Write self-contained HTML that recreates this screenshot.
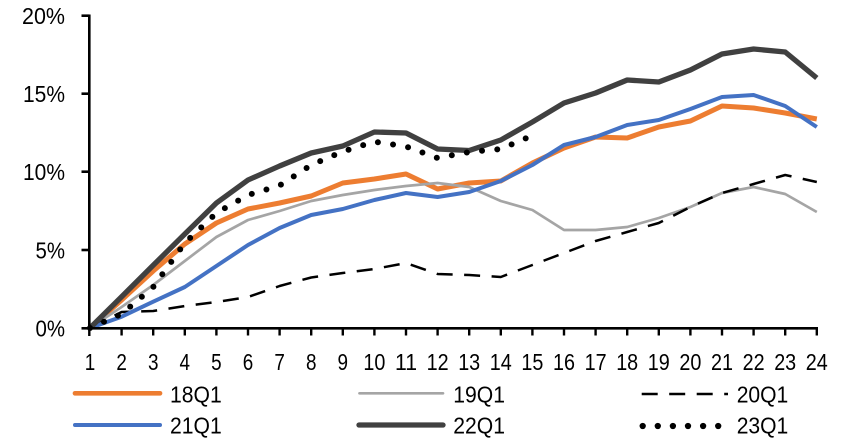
<!DOCTYPE html>
<html><head><meta charset="utf-8"><style>
html,body{margin:0;padding:0;background:#fff;}
svg{display:block;}
text{font-family:"Liberation Sans",Arial,sans-serif;font-size:23px;fill:#000;}
</style></head><body>
<svg width="852" height="442" viewBox="0 0 852 442" xmlns="http://www.w3.org/2000/svg">
<rect width="852" height="442" fill="#fff"/>
<!-- y labels -->
<g text-anchor="end">
<text x="65" y="24" textLength="43" lengthAdjust="spacingAndGlyphs">20%</text>
<text x="65" y="102" textLength="42" lengthAdjust="spacingAndGlyphs">15%</text>
<text x="65" y="180" textLength="42" lengthAdjust="spacingAndGlyphs">10%</text>
<text x="65" y="258.5" textLength="29.5" lengthAdjust="spacingAndGlyphs">5%</text>
<text x="65" y="336.5" textLength="29.5" lengthAdjust="spacingAndGlyphs">0%</text>
</g>
<!-- x labels -->
<g text-anchor="middle">
<text x="90" y="370" textLength="10.5" lengthAdjust="spacingAndGlyphs">1</text>
<text x="121.6" y="370" textLength="10.5" lengthAdjust="spacingAndGlyphs">2</text>
<text x="153.2" y="370" textLength="10.5" lengthAdjust="spacingAndGlyphs">3</text>
<text x="184.8" y="370" textLength="10.5" lengthAdjust="spacingAndGlyphs">4</text>
<text x="216.4" y="370" textLength="10.5" lengthAdjust="spacingAndGlyphs">5</text>
<text x="248" y="370" textLength="10.5" lengthAdjust="spacingAndGlyphs">6</text>
<text x="279.6" y="370" textLength="10.5" lengthAdjust="spacingAndGlyphs">7</text>
<text x="311.2" y="370" textLength="10.5" lengthAdjust="spacingAndGlyphs">8</text>
<text x="342.8" y="370" textLength="10.5" lengthAdjust="spacingAndGlyphs">9</text>
<text x="374.4" y="370" textLength="22" lengthAdjust="spacingAndGlyphs">10</text>
<text x="406" y="370" textLength="22" lengthAdjust="spacingAndGlyphs">11</text>
<text x="437.6" y="370" textLength="22" lengthAdjust="spacingAndGlyphs">12</text>
<text x="469.2" y="370" textLength="22" lengthAdjust="spacingAndGlyphs">13</text>
<text x="500.8" y="370" textLength="22" lengthAdjust="spacingAndGlyphs">14</text>
<text x="532.4" y="370" textLength="22" lengthAdjust="spacingAndGlyphs">15</text>
<text x="564" y="370" textLength="22" lengthAdjust="spacingAndGlyphs">16</text>
<text x="595.6" y="370" textLength="22" lengthAdjust="spacingAndGlyphs">17</text>
<text x="627.2" y="370" textLength="22" lengthAdjust="spacingAndGlyphs">18</text>
<text x="658.8" y="370" textLength="22" lengthAdjust="spacingAndGlyphs">19</text>
<text x="690.4" y="370" textLength="22" lengthAdjust="spacingAndGlyphs">20</text>
<text x="722" y="370" textLength="22" lengthAdjust="spacingAndGlyphs">21</text>
<text x="753.6" y="370" textLength="22" lengthAdjust="spacingAndGlyphs">22</text>
<text x="785.2" y="370" textLength="22" lengthAdjust="spacingAndGlyphs">23</text>
<text x="816.8" y="370" textLength="22" lengthAdjust="spacingAndGlyphs">24</text>
</g>
<!-- series -->
<g fill="none" stroke-linejoin="round">
<polyline stroke="#ED7D31" stroke-width="5" points="90,328 121.6,300 153.2,271 184.8,244 216.4,223 248,209 279.6,203 311.2,196 342.8,183 374.4,179 406,174 437.6,189 469.2,183 500.8,181 532.4,163 564,148 595.6,137 627.2,138 658.8,127 690.4,121 722,106 753.6,108 785.2,113 816.8,119"/>
<polyline stroke="#A5A5A5" stroke-width="2.7" points="90,328 121.6,307 153.2,285 184.8,261 216.4,237 248,220 279.6,211 311.2,201 342.8,195 374.4,190 406,186 437.6,183 469.2,187 500.8,201 532.4,210 564,230 595.6,230 627.2,227 658.8,218 690.4,207 722,193 753.6,187 785.2,194 816.8,212"/>
<polyline stroke="#000" stroke-width="2.5" stroke-dasharray="16 11.5" points="90,328 121.6,312 153.2,311 184.8,306 216.4,302 248,297 279.6,286 311.2,277.5 342.8,273 374.4,269 406,263 437.6,274 469.2,275 500.8,277 532.4,265 564,253 595.6,241 627.2,232 658.8,223 690.4,207 722,193 753.6,184 785.2,175 816.8,182"/>
<polyline stroke="#4472C4" stroke-width="4" points="90,328 121.6,316.7 153.2,301.7 184.8,287 216.4,266 248,245 279.6,228 311.2,215 342.8,209 374.4,200 406,193 437.6,197 469.2,192 500.8,181 532.4,165 564,145 595.6,137 627.2,125 658.8,120 690.4,109 722,97 753.6,95 785.2,106 816.8,127"/>
<polyline stroke="#404040" stroke-width="5.3" points="90,328 121.6,296.7 153.2,265.3 184.8,234 216.4,203 248,180 279.6,166 311.2,153 342.8,146 374.4,132 406,133 437.6,149 469.2,150.5 500.8,140 532.4,122 564,103 595.6,93 627.2,80 658.8,82 690.4,70 722,54 753.6,49 785.2,52 816.8,78"/>
<polyline stroke="#000" stroke-width="6" stroke-linecap="round" stroke-dasharray="0 15.3" points="90,328 121.6,314 153.2,287 184.8,243 216.4,213 248,195 279.6,185.5 311.2,165 342.8,151.5 374.4,141.7 406,146.5 437.6,158 469.2,152 500.8,149 532.4,135.5"/>
</g>
<!-- axes -->
<g stroke="#000" stroke-width="2.6" fill="none">
<line x1="89.3" y1="14.5" x2="89.3" y2="329.3"/>
<line x1="88" y1="328.3" x2="818" y2="328.3"/>
<line x1="81.5" y1="15.7" x2="89.3" y2="15.7"/>
<line x1="81.5" y1="93.7" x2="89.3" y2="93.7"/>
<line x1="81.5" y1="171.7" x2="89.3" y2="171.7"/>
<line x1="81.5" y1="250" x2="89.3" y2="250"/>
<line x1="81.5" y1="328.3" x2="89.3" y2="328.3"/>
</g>
<g stroke="#000" stroke-width="2.4">
<line x1="89.3" y1="328" x2="89.3" y2="336"/>
<line x1="121.6" y1="328" x2="121.6" y2="335.5"/>
<line x1="153.2" y1="328" x2="153.2" y2="335.5"/>
<line x1="184.8" y1="328" x2="184.8" y2="335.5"/>
<line x1="216.4" y1="328" x2="216.4" y2="335.5"/>
<line x1="248" y1="328" x2="248" y2="335.5"/>
<line x1="279.6" y1="328" x2="279.6" y2="335.5"/>
<line x1="311.2" y1="328" x2="311.2" y2="335.5"/>
<line x1="342.8" y1="328" x2="342.8" y2="335.5"/>
<line x1="374.4" y1="328" x2="374.4" y2="335.5"/>
<line x1="406" y1="328" x2="406" y2="335.5"/>
<line x1="437.6" y1="328" x2="437.6" y2="335.5"/>
<line x1="469.2" y1="328" x2="469.2" y2="335.5"/>
<line x1="500.8" y1="328" x2="500.8" y2="335.5"/>
<line x1="532.4" y1="328" x2="532.4" y2="335.5"/>
<line x1="564" y1="328" x2="564" y2="335.5"/>
<line x1="595.6" y1="328" x2="595.6" y2="335.5"/>
<line x1="627.2" y1="328" x2="627.2" y2="335.5"/>
<line x1="658.8" y1="328" x2="658.8" y2="335.5"/>
<line x1="690.4" y1="328" x2="690.4" y2="335.5"/>
<line x1="722" y1="328" x2="722" y2="335.5"/>
<line x1="753.6" y1="328" x2="753.6" y2="335.5"/>
<line x1="785.2" y1="328" x2="785.2" y2="335.5"/>
<line x1="816.8" y1="328" x2="816.8" y2="335.5"/>
</g>
<!-- legend -->
<g fill="none" stroke-linecap="round">
<line x1="75" y1="393.3" x2="160" y2="393.3" stroke="#ED7D31" stroke-width="4.7"/>
<line x1="359.5" y1="393.3" x2="443" y2="393.3" stroke="#A5A5A5" stroke-width="2.7"/>
<line x1="641.7" y1="394" x2="728" y2="394" stroke="#000" stroke-width="2.4" stroke-linecap="butt" stroke-dasharray="16 11.5"/>
<line x1="75" y1="425" x2="160" y2="425" stroke="#4472C4" stroke-width="4"/>
<line x1="359" y1="425" x2="443" y2="425" stroke="#404040" stroke-width="5.3"/>
<line x1="642.7" y1="426" x2="720" y2="426" stroke="#000" stroke-width="6.3" stroke-dasharray="0 15.1"/>
</g>
<text x="170" y="402.3" textLength="51.7" lengthAdjust="spacingAndGlyphs">18Q1</text>
<text x="453.3" y="402.3" textLength="51.7" lengthAdjust="spacingAndGlyphs">19Q1</text>
<text x="736.7" y="402.5" textLength="51.6" lengthAdjust="spacingAndGlyphs">20Q1</text>
<text x="170" y="433.5" textLength="51.7" lengthAdjust="spacingAndGlyphs">21Q1</text>
<text x="453.3" y="433.5" textLength="51.7" lengthAdjust="spacingAndGlyphs">22Q1</text>
<text x="736.7" y="433.5" textLength="51.6" lengthAdjust="spacingAndGlyphs">23Q1</text>
</svg>
</body></html>
